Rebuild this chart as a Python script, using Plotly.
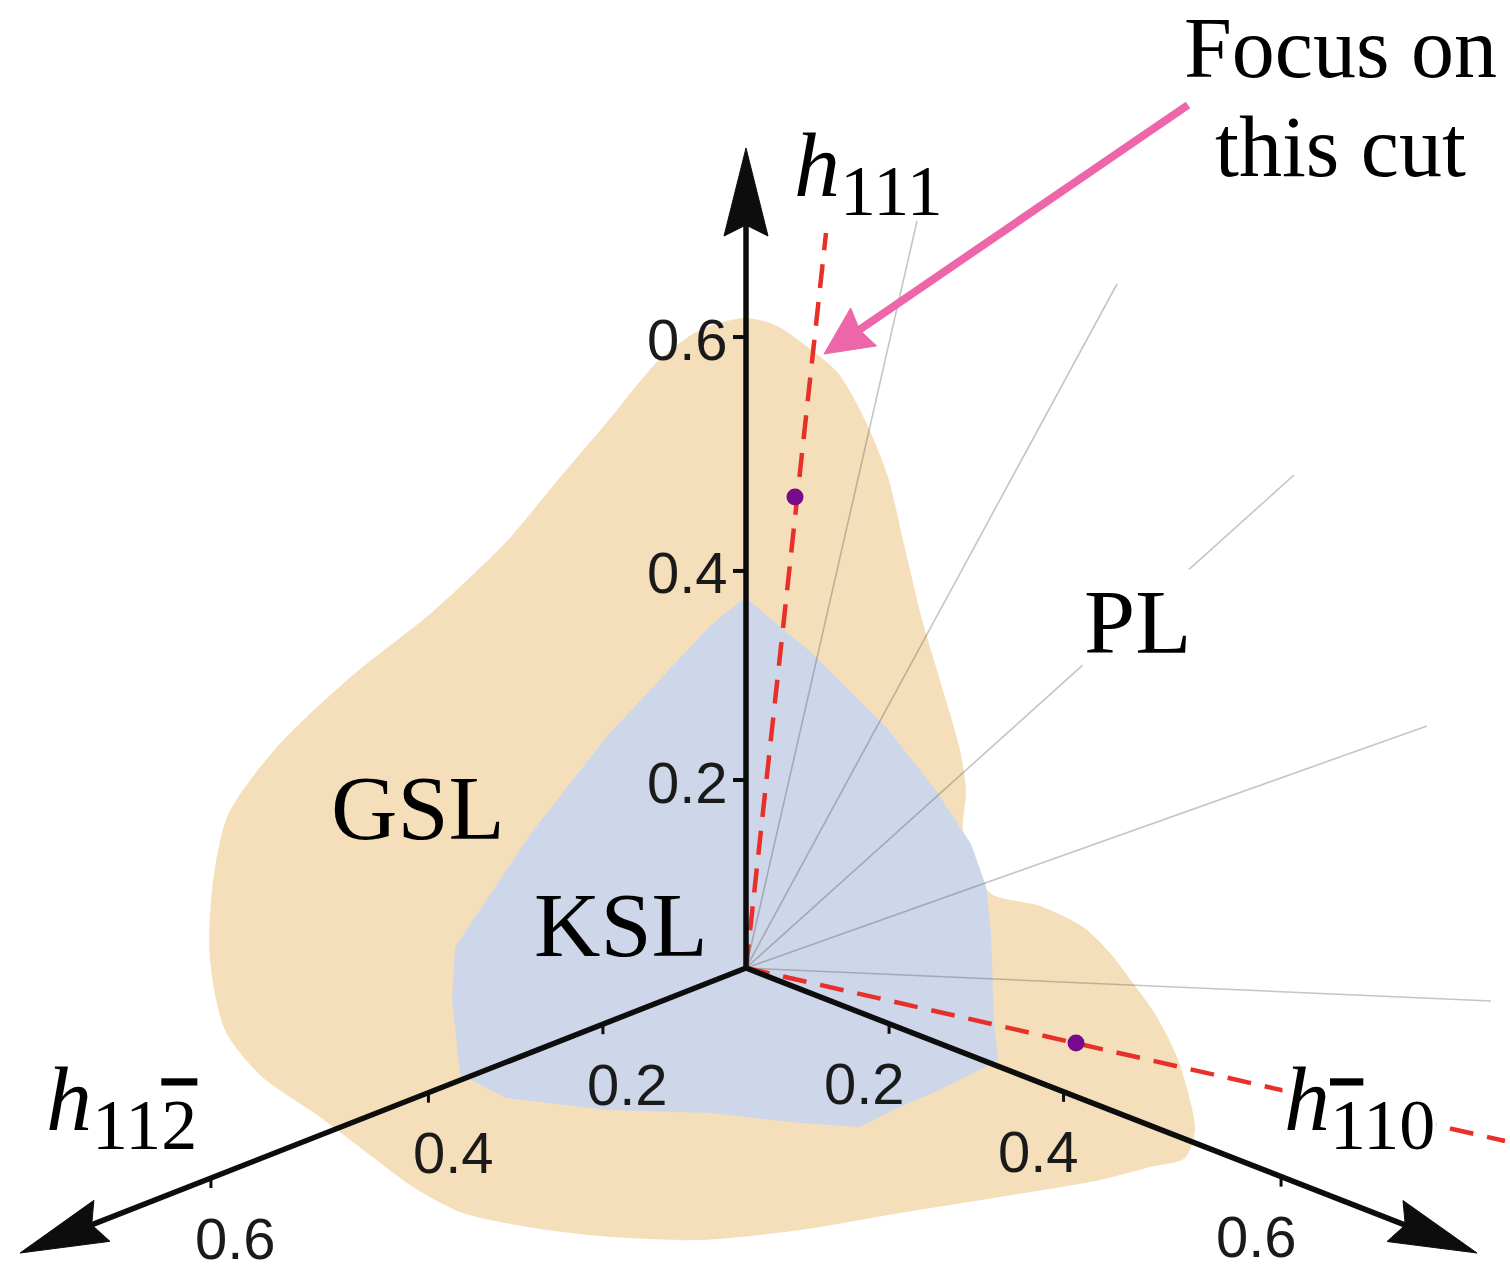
import numpy as np
import plotly.graph_objects as go

W, H = 1510, 1273

# ---- field plane, drawn in canvas coordinates (px, y grows downward) ----
origin = (746, 968)
tip_up = (746, 148)
tip_left = (20, 1253)
tip_right = (1477, 1253)

# GSL region outline
gsl_x = [745, 775, 805, 838, 865, 888, 903, 922, 942, 960, 966, 963, 975, 990, 1040, 1083,
         1110, 1133, 1157, 1177, 1190, 1195, 1185, 1150, 1100, 1000, 900, 800, 700, 613,
         547, 463, 413, 370, 320, 260, 225, 210, 212, 228, 277, 353, 430, 506, 557, 608,
         659, 700, 745]
gsl_y = [318, 325, 345, 373, 420, 477, 540, 619, 687, 750, 792, 830, 860, 893, 906, 927,
         953, 983, 1017, 1057, 1100, 1130, 1158, 1167, 1180, 1197, 1213, 1230, 1240, 1237,
         1230, 1213, 1187, 1155, 1117, 1075, 1030, 960, 890, 815, 747, 675, 614, 542, 481,
         421, 360, 330, 318]

# KSL region outline
ksl_x = [745, 814, 888, 937, 971, 986, 991, 994, 998, 970, 933, 893, 860, 800, 710, 608,
         506, 460, 452, 455, 532, 608, 710, 745]
ksl_y = [597, 655, 729, 792, 844, 886, 933, 1020, 1060, 1075, 1093, 1110, 1127, 1123, 1113,
         1110, 1098, 1074, 1000, 947, 832, 735, 626, 597]

# thin radial cuts
ray_end_x = [917, 1117, 1294, 1427, 1491]
ray_end_y = [221, 284, 475, 726, 1001]

# highlighted cuts (red dashed) and the marked points on them
cut_end_x = [826, 1505]
cut_end_y = [233, 1141]
dot_x = [795, 1076]
dot_y = [497, 1043]

# axis ticks
tick_values = [0.2, 0.4, 0.6]
tick_labels = ["0.2", "0.4", "0.6"]

# perspective foreshortening of each field axis: d(v) = a*v / (1 - b*v)
persp_vert = (892.6, 0.252)
persp_low = (651.0, 0.45)

# pointer arrow
pointer_tail = (1188, 105)
pointer_tip = (824, 354)

ORANGE = "#F5DFBA"
BLUE = "#CDD7E9"
AXIS = "#0d0d0d"
RED = "#E8302A"
PURPLE = "#780A8C"
PINK = "#EE66AA"
SERIF = "Liberation Serif"
SANS = "Liberation Sans"

fig = go.Figure()


def poly(xs, ys, color, line_color=None, width=0, shape="linear"):
    fig.add_trace(go.Scatter(x=xs, y=ys, mode="lines", fill="toself", fillcolor=color,
                             line=dict(color=line_color or color, width=width, shape=shape,
                                       smoothing=0.8),
                             hoverinfo="skip"))


def seg(p, q, color, width, dash=None):
    fig.add_trace(go.Scatter(x=[p[0], q[0]], y=[p[1], q[1]], mode="lines",
                             line=dict(color=color, width=width, dash=dash),
                             hoverinfo="skip"))


def unit(p, q):
    d = np.array(q, float) - np.array(p, float)
    return d / np.linalg.norm(d)


def stealth_head(tip, direction, length, half_w, notch, color):
    t = np.array(tip, float)
    u = np.array(direction, float)
    n = np.array([-u[1], u[0]])
    base = t - u * length
    a = base + n * half_w
    b = base - n * half_w
    c = t - u * (length - notch)
    xs = [t[0], a[0], c[0], b[0], t[0]]
    ys = [t[1], a[1], c[1], b[1], t[1]]
    poly(xs, ys, color, color, 1)


# phase regions
poly(gsl_x, gsl_y, ORANGE, shape="spline")
poly(ksl_x, ksl_y, BLUE)

# radial cuts
for ex, ey in zip(ray_end_x, ray_end_y):
    seg(origin, (ex, ey), "rgba(80,80,80,0.33)", 1.6)

# highlighted cuts
for ex, ey in zip(cut_end_x, cut_end_y):
    seg(origin, (ex, ey), RED, 4.5, dash="24px,14px")

# field axes
u_up = unit(origin, tip_up)
u_left = unit(origin, tip_left)
u_right = unit(origin, tip_right)
for tip, u in [(tip_up, u_up), (tip_left, u_left), (tip_right, u_right)]:
    end = np.array(tip, float) - u * 70
    seg(origin, end, AXIS, 5.5)
    stealth_head(tip, u, 88, 22, 11, AXIS)


def persp(v, ab):
    a, b = ab
    return a * v / (1 - b * v)


tick_font = dict(family=SANS, size=58, color="#1a1a1a")
annotations = []
for v, lab in zip(tick_values, tick_labels):
    # vertical axis
    y = origin[1] - persp(v, persp_vert)
    seg((origin[0] - 13, y), (origin[0], y), AXIS, 4)
    annotations.append(dict(x=origin[0] - 16, y=y + 2, text=lab, xanchor="right",
                            yanchor="middle", font=tick_font))
    # lower axes
    dx = persp(v, persp_low)
    for sgn, u in [(-1, u_left), (1, u_right)]:
        x = origin[0] + sgn * dx
        yy = origin[1] + dx * abs(u[1] / u[0])
        seg((x, yy), (x, yy + 10), AXIS, 3)
        annotations.append(dict(x=x - sgn * 25, y=yy + 60, text=lab, xanchor="center",
                                yanchor="middle", font=tick_font))

# marked points
fig.add_trace(go.Scatter(x=dot_x, y=dot_y, mode="markers",
                         marker=dict(color=PURPLE, size=17, line=dict(width=0)),
                         hoverinfo="skip"))

# pointer arrow
pu = unit(pointer_tail, pointer_tip)
seg(pointer_tail, np.array(pointer_tip) - pu * 35, PINK, 8)
stealth_head(pointer_tip, pu, 48, 23, 5, PINK)


def field_label(sub):
    return ("<i>h</i><sub><span style='font-size:72px'>" + sub + "</span></sub>")


def bar(d):
    return ("<span style='text-decoration:overline;text-decoration-thickness:4px'>"
            + d + "</span>")


label_font = dict(family=SERIF, size=92, color="black")
annotations += [
    dict(x=1340, y=48, text="Focus on", xanchor="center", yanchor="middle",
         font=dict(family=SERIF, size=86, color="black")),
    dict(x=1340, y=147, text="this cut", xanchor="center", yanchor="middle",
         font=dict(family=SERIF, size=86, color="black")),
    dict(x=792, y=172, text=field_label("111"), xanchor="left", yanchor="middle",
         font=label_font),
    dict(x=44, y=1106, text=field_label("11" + bar("2")), xanchor="left",
         yanchor="middle", font=label_font),
    dict(x=1282, y=1106, text=field_label(bar("1") + "10"), xanchor="left",
         yanchor="middle", font=label_font, bgcolor="white"),
    dict(x=418, y=808, text="GSL", xanchor="center", yanchor="middle", font=label_font),
    dict(x=621, y=925, text="KSL", xanchor="center", yanchor="middle", font=label_font),
    dict(x=1137, y=622, text="PL", xanchor="center", yanchor="middle", font=label_font,
         bgcolor="white"),
]
for a in annotations:
    a.update(xref="x", yref="y", showarrow=False)

fig.update_layout(
    width=W, height=H, margin=dict(l=0, r=0, t=0, b=0),
    paper_bgcolor="white", plot_bgcolor="white", showlegend=False,
    xaxis=dict(range=[0, W], visible=False, fixedrange=True),
    yaxis=dict(range=[H, 0], visible=False, fixedrange=True),
    annotations=annotations,
)

fig.write_html("out.html")
